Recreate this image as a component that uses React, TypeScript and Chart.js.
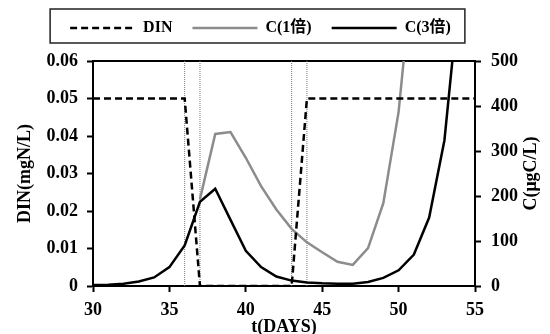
import { useEffect, useRef } from "react";
import { Chart, registerables } from "chart.js";

Chart.register(...registerables);

const days = [30, 31, 32, 33, 34, 35, 36, 37, 38, 39, 40, 41, 42, 43, 44, 45, 46, 47, 48, 49, 50, 51, 52, 53, 54, 55];
const dinValues = [0.05, 0.05, 0.05, 0.05, 0.05, 0.05, 0.05, 0, 0, 0, 0, 0, 0, 0, 0.05, 0.05, 0.05, 0.05, 0.05, 0.05, 0.05, 0.05, 0.05, 0.05, 0.05, 0.05];
const c1Values = [null, null, null, null, null, null, null, 193, 338, 342, 285, 222, 170, 127, 97, 75, 54, 47, 84, 184, 387, 730, null, null, null, null];
const c3Values = [2, 3, 5, 10, 19, 42, 90, 187, 216, 147, 78, 42, 21, 12, 8, 6, 5, 5, 9, 18, 35, 70, 152, 324, 664, null];
const markerDays = [36, 37, 43, 44];
const seriesLabels = ["DIN", "C(1倍)", "C(3倍)"];

const FAMILY = "'Liberation Serif', 'Times New Roman', 'Noto Sans CJK SC', serif";

const framePlugin = {
  id: "frameAndExtras",
  afterDraw(chart: any) {
    const { ctx, chartArea: a } = chart;
    ctx.save();
    const hb = chart.legend && chart.legend.legendHitBoxes;
    if (hb && hb.length) {
      const l = Math.min(...hb.map((h: any) => h.left)) - 20;
      const r = Math.max(...hb.map((h: any) => h.left + h.width)) + 14;
      const t = hb[0].top - 11;
      const b = hb[0].top + hb[0].height + 7;
      ctx.lineWidth = 1.5;
      ctx.strokeStyle = "#222";
      ctx.strokeRect(l, t, r - l, b - t);
    }
    ctx.fillStyle = "#000";
    ctx.font = `bold 18px ${FAMILY}`;
    ctx.textAlign = "center";
    ctx.textBaseline = "middle";
    ctx.translate(a.right + 56, (a.top + a.bottom) / 2);
    ctx.rotate(-Math.PI / 2);
    ctx.fillText("C(μgC/L)", 0, 0);
    ctx.restore();
  },
};

export default function App() {
  const ref = useRef<HTMLCanvasElement>(null);
  useEffect(() => {
    if (!ref.current) return;
    const toXY = (vals: (number | null)[]) => days.map((d, i) => ({ x: d, y: vals[i] }));
    const tickFont = { family: FAMILY, size: 18, weight: "bold" as const };
    const vlines = markerDays.map((d) => ({
      label: "m" + d,
      data: [
        { x: d, y: 0 },
        { x: d, y: 0.06 },
      ],
      yAxisID: "y",
      borderColor: "#777",
      borderWidth: 1,
      borderDash: [1, 1],
      pointRadius: 0,
    }));
    const chart = new Chart(ref.current, {
      type: "line",
      data: {
        datasets: [
          {
            label: seriesLabels[0],
            data: toXY(dinValues),
            yAxisID: "y",
            borderColor: "#000",
            borderWidth: 2.5,
            borderDash: [7, 4],
            pointRadius: 0,
          },
          {
            label: seriesLabels[1],
            data: toXY(c1Values),
            yAxisID: "y2",
            borderColor: "#8c8c8c",
            borderWidth: 2.5,
            pointRadius: 0,
          },
          {
            label: seriesLabels[2],
            data: toXY(c3Values),
            yAxisID: "y2",
            borderColor: "#000",
            borderWidth: 2.5,
            pointRadius: 0,
          },
          ...vlines,
        ] as any,
      },
      options: {
        animation: false,
        responsive: false,
        layout: { padding: { top: 0, left: 0, right: 29, bottom: 0 } },
        plugins: {
          tooltip: { enabled: false },
          legend: {
            position: "top",
            labels: {
              usePointStyle: true,
              pointStyle: "line",
              pointStyleWidth: 65,
              padding: 20,
              color: "#000",
              font: { family: FAMILY, size: 16, weight: "bold" },
              filter: (item: any) => item.datasetIndex < 3,
              generateLabels: (c: any) =>
                (Chart.defaults.plugins.legend.labels.generateLabels as any)(c).map((item: any) => {
                  const ds = c.data.datasets[item.datasetIndex];
                  return {
                    ...item,
                    lineDash: ds.borderDash || [],
                    lineWidth: 2.5,
                    strokeStyle: ds.borderColor,
                    fillStyle: ds.borderColor,
                  };
                }),
            },
          },
        },
        scales: {
          x: {
            type: "linear",
            min: 30,
            max: 55,
            ticks: { stepSize: 5, color: "#000", font: tickFont, padding: 8 },
            grid: { drawOnChartArea: false, tickLength: 6, tickWidth: 2, tickColor: "#000" },
            border: { color: "#000", width: 2 },
            title: {
              display: true,
              text: "t(DAYS)",
              color: "#000",
              font: { family: FAMILY, size: 18, weight: "bold", lineHeight: 1 },
              padding: { top: 0, bottom: -2 },
            },
            afterFit: (s: any) => {
              s.height = 48;
            },
          },
          xTop: {
            type: "linear",
            position: "top",
            min: 30,
            max: 55,
            ticks: { display: false },
            grid: { display: false },
            border: { color: "#000", width: 2 },
            afterFit: (s: any) => {
              s.height = 15;
            },
          },
          y: {
            position: "left",
            min: 0,
            max: 0.06,
            ticks: { stepSize: 0.01, color: "#000", font: tickFont, padding: 9 },
            grid: { drawOnChartArea: false, tickLength: 6, tickWidth: 2, tickColor: "#000" },
            border: { color: "#000", width: 2 },
            title: {
              display: true,
              text: "DIN(mgN/L)",
              color: "#000",
              font: { family: FAMILY, size: 18, weight: "bold" },
              padding: { top: 15, bottom: 0 },
            },
            afterFit: (s: any) => {
              s.width = 93;
            },
          },
          y2: {
            position: "right",
            min: 0,
            max: 500,
            ticks: { stepSize: 100, color: "#000", font: tickFont, padding: 10 },
            grid: { drawOnChartArea: false, tickLength: 6, tickWidth: 2, tickColor: "#000" },
            border: { color: "#000", width: 2 },
            afterFit: (s: any) => {
              s.width = 46;
            },
          },
        },
      } as any,
      plugins: [framePlugin],
    });
    return () => chart.destroy();
  }, []);
  return (
    <div style={{ position: "absolute", left: 0, top: 0, width: 550, height: 334, background: "#fff" }}>
      <canvas ref={ref} width={550} height={334} style={{ display: "block" }} />
    </div>
  );
}
